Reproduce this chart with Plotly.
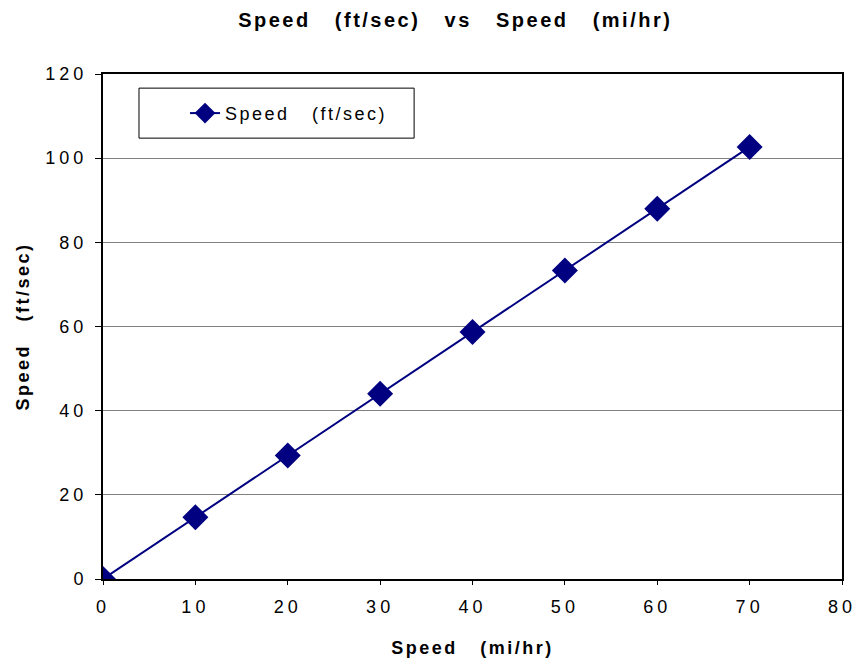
import plotly.graph_objects as go

mph = [0, 10, 20, 30, 40, 50, 60, 70]
fps = [0, 14.67, 29.33, 44.0, 58.67, 73.33, 88.0, 102.67]
series_name = "Speed   (ft/sec)"
title = "Speed   (ft/sec)   vs   Speed   (mi/hr)"
x_title = "Speed   (mi/hr)"
y_title = "Speed   (ft/sec)"

navy = "#000080"
font = "Liberation Sans, Arial, sans-serif"

fig = go.Figure()
fig.add_trace(go.Scatter(
    x=mph, y=fps, mode="lines+markers", name=series_name,
    line=dict(color=navy, width=2),
    marker=dict(symbol="diamond", size=20, color=navy),
))

# legend frame
fig.add_shape(type="rect", xref="paper", yref="paper",
              x0=0.0487, x1=0.421, y0=0.873, y1=0.972,
              line=dict(color="black", width=1), fillcolor="white", layer="below")

fig.update_layout(
    width=859, height=664,
    margin=dict(l=103, r=17, t=74, b=85, autoexpand=False),
    paper_bgcolor="white", plot_bgcolor="white",
    font=dict(family=font, size=18, color="black"),
    title=dict(text="<b>" + title + "</b>", x=0.53, xanchor="center",
               y=0.97, yanchor="middle", font=dict(size=20)),
    showlegend=True,
    legend=dict(x=0.111, y=0.922, xanchor="left", yanchor="middle",
                borderwidth=0, bgcolor="rgba(0,0,0,0)",
                font=dict(size=18)),
    xaxis=dict(range=[0, 80], dtick=10, showgrid=False, zeroline=False, automargin=False,
               showline=True, linecolor="black", linewidth=2, mirror=True,
               ticks="outside", ticklen=4, tickcolor="black", ticklabelstandoff=6,
               title=dict(text="<b>" + x_title + "</b>", font=dict(size=18), standoff=26)),
    yaxis=dict(range=[0, 120], dtick=20, showgrid=True, gridcolor="#808080", gridwidth=1,
               zeroline=False, showline=True, linecolor="black", linewidth=2, mirror=True,
               automargin=False,
               ticks="outside", ticklen=6, tickcolor="black", ticklabelstandoff=4,
               title=dict(text="<b>" + y_title + "</b>", font=dict(size=18), standoff=23)),
)

post = """
var gd = document.getElementById('{plot_id}');
gd.querySelectorAll('.xtick text, .ytick text').forEach(function(t){ t.style.letterSpacing = '4px'; });
gd.querySelectorAll('.gtitle, .g-xtitle text, .g-ytitle text, .legendtext').forEach(function(t){ t.style.letterSpacing = '2.5px'; });
gd.querySelectorAll('.legend .scrollbox, .legend').forEach(function(e){ e.removeAttribute('clip-path'); });
"""

fig.write_html("out.html", post_script=post)
